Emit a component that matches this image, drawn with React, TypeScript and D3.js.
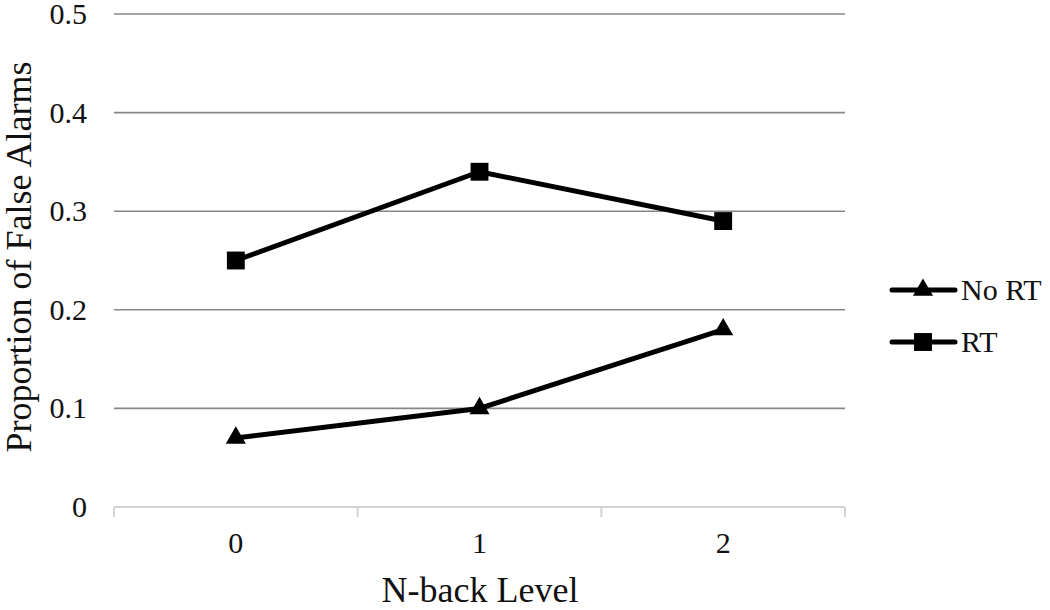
import React from 'react';
import { scaleBand, scaleLinear, line, symbol, symbolTriangle, symbolSquare } from 'd3';

const levels = ['0', '1', '2'];
const noRT = [0.07, 0.1, 0.18];
const rt = [0.25, 0.34, 0.29];
const yTicks = [0, 0.1, 0.2, 0.3, 0.4, 0.5];
const seriesNames = ['No RT', 'RT'];

const width = 1050;
const height = 610;
const font = '"Liberation Serif", "Times New Roman", serif';

const App = () => {
  const xScale = scaleBand().domain(levels).range([114, 845]).padding(0);
  const yScale = scaleLinear().domain([0, 0.5]).range([507, 14]);
  const cx = (d: string) => (xScale(d) as number) + xScale.bandwidth() / 2;

  const series = [
    { name: seriesNames[0], values: noRT, shape: symbolTriangle, size: 175 },
    { name: seriesNames[1], values: rt, shape: symbolSquare, size: 320 },
  ];

  const pathOf = line<number>()
    .x((v, i) => cx(levels[i]))
    .y(v => yScale(v));

  const legendY = [290, 342];

  return (
    <svg width={width} height={height} overflow="visible"
      style={{ position: 'absolute', left: 0, top: 0, background: '#fff' }}>
      {/* gridlines */}
      {yTicks.filter(t => t > 0).map(t => (
        <line key={t} x1={114} x2={845} y1={yScale(t)} y2={yScale(t)} stroke="#878787" strokeWidth={1.6} />
      ))}
      {/* x axis with category boundary ticks */}
      <line x1={114} x2={845} y1={yScale(0)} y2={yScale(0)} stroke="#d4d4d4" strokeWidth={2} />
      {[...levels.map(l => xScale(l) as number), 845].map((x, i) => (
        <line key={i} x1={x} x2={x} y1={yScale(0)} y2={yScale(0) + 10} stroke="#d4d4d4" strokeWidth={2} />
      ))}
      {/* y tick labels */}
      {yTicks.map(t => (
        <text key={t} x={87} y={yScale(t) + 10} textAnchor="end" fontFamily={font} fontSize={30} fill="#111">
          {t === 0 ? '0' : t.toFixed(1)}
        </text>
      ))}
      {/* x tick labels */}
      {levels.map(l => (
        <text key={l} x={cx(l)} y={553} textAnchor="middle" fontFamily={font} fontSize={30} fill="#111">{l}</text>
      ))}
      <text x={480} y={602} textAnchor="middle" fontFamily={font} fontSize={36} fill="#111">N-back Level</text>
      <text transform="translate(31,257) rotate(-90)" textAnchor="middle" fontFamily={font} fontSize={36} fill="#111">
        Proportion of False Alarms
      </text>

      {/* series */}
      {series.map(s => (
        <g key={s.name}>
          <path d={pathOf(s.values) as string} fill="none" stroke="#000" strokeWidth={5} strokeLinejoin="round" />
          {s.values.map((v, i) => (
            <path key={i} transform={`translate(${cx(levels[i])},${yScale(v)})`}
              d={symbol().type(s.shape).size(s.size)() as string} fill="#000" />
          ))}
        </g>
      ))}

      {/* legend */}
      {series.map((s, i) => (
        <g key={s.name} transform={`translate(0,${legendY[i]})`}>
          <line x1={892} x2={955} y1={0} y2={0} stroke="#000" strokeWidth={5} strokeLinecap="round" />
          <path transform="translate(923,0)" d={symbol().type(s.shape).size(s.size)() as string} fill="#000" />
          <text x={961} y={10} fontFamily={font} fontSize={30} fill="#111">{s.name}</text>
        </g>
      ))}
    </svg>
  );
};

export default App;
